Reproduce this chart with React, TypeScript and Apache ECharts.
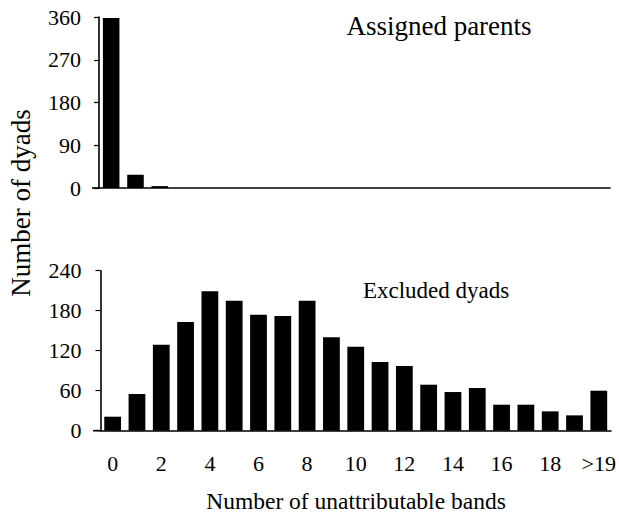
import React, { useEffect, useRef } from "react";
import * as echarts from "echarts";

const categories = ["0","1","2","3","4","5","6","7","8","9","10","11","12","13","14","15","16","17","18","19",">19"];
const assignedParents = [358, 28, 4, 0, 0, 0, 0, 0, 0, 0, 0, 0, 0, 0, 0, 0, 0, 0, 0, 0, 0];
const excludedDyads = [21, 55, 129, 163, 209, 195, 174, 172, 195, 140, 126, 103, 97, 69, 58, 64, 39, 39, 29, 23, 60];
const topAxis = { min: 0, max: 360, interval: 90 };
const bottomAxis = { min: 0, max: 240, interval: 60 };
const topTitle = "Assigned parents";
const bottomTitle = "Excluded dyads";
const xTitle = "Number of unattributable bands";
const yTitle = "Number of dyads";

const FONT = "Liberation Serif";

export default function App() {
  const ref = useRef<HTMLDivElement>(null);
  useEffect(() => {
    if (!ref.current) return;
    const chart = echarts.init(ref.current, null, { renderer: "svg" });
    const axisLine = { show: true, lineStyle: { color: "#000", width: 1.6 } };
    const yTick = { show: true, length: 5, lineStyle: { color: "#000", width: 1.2 } };
    const yLabel = { color: "#000", fontFamily: FONT, fontSize: 22, margin: 18 };
    const txt = (text: string, size: number) => ({
      text, fontFamily: FONT, fontSize: size, fill: "#000", textAlign: "center", textVerticalAlign: "middle",
    });
    chart.setOption({
      animation: false,
      backgroundColor: "#fff",
      textStyle: { fontFamily: FONT },
      grid: [
        { left: 99, top: 17, width: 511, height: 171 },
        { left: 100.5, top: 270.7, width: 511, height: 160 },
      ],
      xAxis: [
        {
          gridIndex: 0, type: "category", data: categories,
          axisLine, axisTick: { show: false }, axisLabel: { show: false },
        },
        {
          gridIndex: 1, type: "category", data: categories,
          axisLine, axisTick: { show: false },
          axisLabel: { interval: 1, color: "#000", fontFamily: FONT, fontSize: 22, margin: 22 },
        },
      ],
      yAxis: [
        {
          gridIndex: 0, type: "value", ...topAxis,
          axisLine, axisTick: yTick, splitLine: { show: false }, axisLabel: yLabel,
        },
        {
          gridIndex: 1, type: "value", ...bottomAxis,
          axisLine, axisTick: yTick, splitLine: { show: false }, axisLabel: { ...yLabel, margin: 19 },
        },
      ],
      series: [
        {
          type: "bar", xAxisIndex: 0, yAxisIndex: 0, data: assignedParents,
          barCategoryGap: "32%", itemStyle: { color: "#000" },
        },
        {
          type: "bar", xAxisIndex: 1, yAxisIndex: 1, data: excludedDyads,
          barCategoryGap: "31%", itemStyle: { color: "#000" },
        },
      ],
      graphic: [
        { type: "line", shape: { x1: 92, y1: 188, x2: 100, y2: 188 }, style: { stroke: "#000", lineWidth: 1.6 } },
        { type: "line", shape: { x1: 93, y1: 430.7, x2: 101, y2: 430.7 }, style: { stroke: "#000", lineWidth: 1.6 } },
        { type: "text", x: 439, y: 26, style: txt(topTitle, 27) },
        { type: "text", x: 436, y: 290.5, style: txt(bottomTitle, 23) },
        { type: "text", x: 356, y: 501, style: txt(xTitle, 23.5) },
        { type: "text", x: 21, y: 203, rotation: Math.PI / 2, style: txt(yTitle, 27) },
      ],
    });
    return () => chart.dispose();
  }, []);
  return <div ref={ref} style={{ width: 619, height: 514, position: "absolute", left: 0, top: 0 }} />;
}
